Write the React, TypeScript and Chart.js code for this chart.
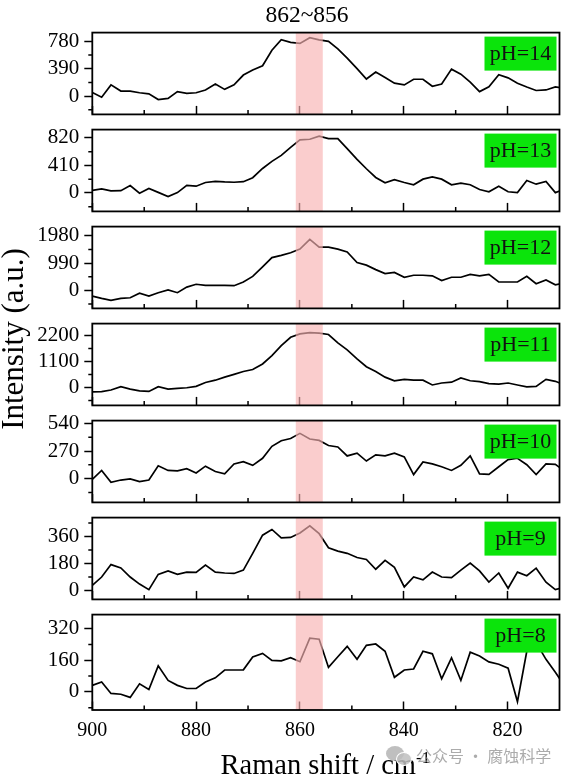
import React, { useEffect, useRef } from 'react';
import { Chart, registerables } from 'chart.js';

Chart.register(...registerables);

// ---------- data ----------
const ramanShift = [
  900.0, 898.2, 896.4, 894.5, 892.7, 890.9, 889.1, 887.3, 885.4, 883.6,
  881.8, 880.0, 878.2, 876.3, 874.5, 872.7, 870.9, 869.1, 867.2, 865.4,
  863.6, 861.8, 860.0, 858.1, 856.3, 854.5, 852.7, 850.9, 849.0, 847.2,
  845.4, 843.6, 841.8, 839.9, 838.1, 836.3, 834.5, 832.7, 830.8, 829.0,
  827.2, 825.4, 823.6, 821.7, 819.9, 818.1, 816.3, 814.5, 812.6, 810.8,
  809.0,
];

const intensityPH14 = [
  52, -16, 160, 72, 72, 48, 32, -48, -32, 64,
  40, 48, 88, 172, 96, 160, 300, 372, 432, 652,
  804, 764, 750, 832, 800, 780, 672, 540, 392, 244,
  344, 264, 184, 160, 240, 240, 140, 172, 384, 312,
  200, 64, 132, 304, 260, 184, 130, 80, 88, 130,
  110,
];

const intensityPH13 = [
  38, 59, 29, 33, 109, -4, 67, 8, -54, 4,
  113, 100, 155, 171, 163, 159, 167, 226, 364, 470,
  560, 680, 790, 800, 845, 810, 810, 660, 500, 360,
  230, 150, 196, 155, 121, 205, 238, 205, 121, 146,
  121, 50, 17, 100, 17, 4, 184, 130, 171, 4,
  59,
];

const intensityPH12 = [
  -204, -286, -357, -286, -265, -102, -204, -82, 20, -82,
  122, 224, 184, 184, 184, 173, 306, 510, 857, 1193,
  1275, 1367, 1500, 1856, 1571, 1571, 1500, 1397, 1010, 918,
  755, 612, 653, 479, 551, 551, 530, 357, 479, 479,
  581, 530, 581, 306, 306, 306, 510, 245, 377, 204,
  275,
];

const intensityPH11 = [
  -189, -177, -106, 35, -71, -142, -166, 35, -71, -35,
  -12, 47, 213, 308, 438, 556, 674, 757, 994, 1349,
  1763, 2118, 2260, 2319, 2295, 2236, 1881, 1585, 1207, 875,
  674, 438, 284, 343, 308, 308, 106, 189, 225, 402,
  284, 248, 166, 142, 189, 106, 24, 47, 343, 260,
  106,
];

const intensityPH10 = [
  -8, 80, -36, -14, -3, -30, -14, 125, 80, 75,
  97, 55, 122, 69, 47, 144, 166, 130, 199, 316,
  371, 393, 443, 388, 374, 324, 310, 222, 249, 172,
  233, 222, 249, 213, 39, 163, 144, 116, 80, 130,
  222, 47, 42, 116, 186, 199, 136, 39, 144, 139,
  75,
];

const intensityPH9 = [
  34, 90, 173, 151, 90, 43, 6, 108, 131, 108,
  123, 121, 170, 123, 117, 114, 136, 248, 369, 407,
  351, 354, 384, 431, 379, 285, 263, 248, 220, 207,
  142, 201, 155, 24, 90, 71, 123, 90, 86, 136,
  183, 131, 56, 117, 15, 123, 99, 149, 56, 6,
  24,
];

const intensityPH8 = [
  33, 50, -8, -12, -28, 41, 12, 132, 58, 33,
  17, 17, 50, 71, 111, 111, 112, 177, 195, 160,
  157, 173, 153, 272, 267, 124, 178, 231, 165, 236,
  243, 206, 74, 111, 116, 206, 193, 66, 173, 58,
  201, 182, 152, 140, 120, -50, 206, 250, 165, 99,
  30,
];

const panelLabels = ['pH=14', 'pH=13', 'pH=12', 'pH=11', 'pH=10', 'pH=9', 'pH=8'];
const panelSeries = [
  intensityPH14, intensityPH13, intensityPH12, intensityPH11,
  intensityPH10, intensityPH9, intensityPH8,
];
const yTickStep = [390, 410, 990, 1100, 270, 180, 160];
const yAxisMin = [-260, -276, -652, -756, -233, -59, -92];
const yAxisMax = [904, 944, 2317, 2697, 568, 486, 392];

const xAxisMin = 810;
const xAxisMax = 900;
const xTickValues = [900, 880, 860, 840, 820];
const xMinorTickValues = [890, 870, 850, 830];
const bandRange = [860.8, 855.6];

const bandTitle = '862~856';
const xTitle = 'Raman shift / cm';
const xTitleSup = '-1';
const yTitle = 'Intensity (a.u.)';
const watermark = '公众号 · 腐蚀科学';

// ---------- layout ----------
const SERIF = "'Liberation Serif', 'Times New Roman', serif";
const W = 563;
const PLOT_LEFT = 92.3;
const PLOT_RIGHT = 559.5;
const FIRST_TOP = 30.7;
const PANEL_H = 97.04;
const PAD_T = 16;
const PAD_B = 4;
const BOTTOM_AXIS_H = 67;

function Panel({ index }: { index: number }) {
  const ref = useRef<HTMLCanvasElement>(null);
  const isBottom = index === panelSeries.length - 1;
  const top = FIRST_TOP + index * PANEL_H - PAD_T;
  const xH = isBottom ? BOTTOM_AXIS_H : PAD_B;
  const height = PAD_T + PANEL_H + xH;

  useEffect(() => {
    if (!ref.current) return;
    const step = yTickStep[index];
    const majors = [0, step, 2 * step];
    const minors = [-step / 2, step / 2, (3 * step) / 2, (5 * step) / 2].filter(
      (v) => v > yAxisMin[index] && v < yAxisMax[index]
    );

    const decor = {
      id: 'panelDecor',
      afterDatasetsDraw(chart: any) {
        const { ctx, chartArea: a, scales } = chart;
        const x1 = scales.x.getPixelForValue(bandRange[0]);
        const x2 = scales.x.getPixelForValue(bandRange[1]);
        ctx.save();
        ctx.fillStyle = 'rgba(247,178,178,0.65)';
        ctx.fillRect(Math.min(x1, x2), a.top, Math.abs(x2 - x1), a.bottom - a.top);
        ctx.restore();
      },
      afterDraw(chart: any) {
        const { ctx, chartArea: a, scales } = chart;
        ctx.save();
        ctx.strokeStyle = '#000';
        ctx.lineWidth = 1.5;
        ctx.beginPath();
        xMinorTickValues.forEach((v) => {
          const px = scales.x.getPixelForValue(v);
          ctx.moveTo(px, a.bottom);
          ctx.lineTo(px, a.bottom - 4.5);
        });
        minors.forEach((v) => {
          const py = scales.y.getPixelForValue(v);
          ctx.moveTo(a.left, py);
          ctx.lineTo(a.left - 4, py);
        });
        ctx.stroke();
        ctx.lineWidth = 1.8;
        ctx.strokeRect(a.left, a.top, a.right - a.left, a.bottom - a.top);
        const bw = 72;
        const bh = 34;
        const bx = a.right - 3 - bw;
        const by = a.top + 4;
        ctx.fillStyle = '#0be40b';
        ctx.fillRect(bx, by, bw, bh);
        ctx.fillStyle = '#111';
        ctx.font = `22px ${SERIF}`;
        ctx.textAlign = 'center';
        ctx.textBaseline = 'middle';
        ctx.fillText(panelLabels[index], bx + bw / 2, by + bh / 2 + 1);
        ctx.restore();
      },
    };

    const chart = new Chart(ref.current, {
      type: 'line',
      data: {
        datasets: [
          {
            data: ramanShift.map((x, k) => ({ x, y: panelSeries[index][k] })),
            borderColor: '#000',
            borderWidth: 1.7,
            pointRadius: 0,
            tension: 0,
            fill: false,
          },
        ],
      },
      options: {
        animation: false,
        responsive: true,
        maintainAspectRatio: false,
        layout: { padding: { top: PAD_T, right: W - PLOT_RIGHT, left: 0, bottom: 0 } },
        plugins: {
          legend: { display: false },
          tooltip: { enabled: false },
          title: { display: false },
        },
        scales: {
          x: {
            type: 'linear',
            min: xAxisMin,
            max: xAxisMax,
            reverse: true,
            z: 1,
            afterBuildTicks: (s: any) => {
              s.ticks = xTickValues.map((v) => ({ value: v }));
            },
            afterFit: (s: any) => {
              s.height = xH;
            },
            grid: {
              drawOnChartArea: false,
              drawTicks: true,
              tickLength: -8.5,
              tickWidth: 1.5,
              tickColor: '#000',
            },
            border: { display: false },
            ticks: {
              display: isBottom,
              color: '#000',
              font: { family: SERIF, size: 20 },
              padding: 17,
              maxRotation: 0,
              autoSkip: false,
              callback: (v: any) => String(v),
            },
          },
          y: {
            type: 'linear',
            min: yAxisMin[index],
            max: yAxisMax[index],
            afterBuildTicks: (s: any) => {
              s.ticks = majors.map((v) => ({ value: v }));
            },
            afterFit: (s: any) => {
              s.width = PLOT_LEFT;
            },
            grid: {
              drawOnChartArea: false,
              drawTicks: true,
              tickLength: 8,
              tickWidth: 1.5,
              tickColor: '#000',
            },
            border: { display: false },
            ticks: {
              color: '#000',
              font: { family: SERIF, size: 21 },
              padding: 5,
              autoSkip: false,
              callback: (v: any) => String(v),
            },
          },
        },
      } as any,
      plugins: [decor],
    });
    return () => chart.destroy();
  }, []);

  return (
    <div style={{ position: 'absolute', left: 0, top, width: W, height }}>
      <canvas ref={ref} style={{ display: 'block' }} />
    </div>
  );
}

export default function App() {
  return (
    <div
      style={{
        position: 'absolute',
        left: 0,
        top: 0,
        width: W,
        height: 777,
        background: '#fff',
        overflow: 'hidden',
        fontFamily: SERIF,
        color: '#000',
      }}
    >
      {panelSeries.map((_, i) => (
        <Panel key={i} index={i} />
      ))}
      <div
        style={{
          position: 'absolute',
          left: 207,
          top: 0,
          width: 200,
          height: 28,
          lineHeight: '28px',
          fontSize: 23.5,
          textAlign: 'center',
        }}
      >
        {bandTitle}
      </div>
      <div
        style={{
          position: 'absolute',
          left: 13 - 120,
          top: 338.5 - 18,
          width: 240,
          height: 36,
          lineHeight: '36px',
          fontSize: 31,
          textAlign: 'center',
          whiteSpace: 'nowrap',
          transform: 'rotate(-90deg)',
          transformOrigin: '50% 50%',
        }}
      >
        {yTitle}
      </div>
      <div
        style={{
          position: 'absolute',
          left: 220.5,
          top: 749,
          height: 32,
          lineHeight: '32px',
          fontSize: 28.5,
          whiteSpace: 'nowrap',
        }}
      >
        {xTitle}
        <span style={{ fontSize: 17, position: 'relative', top: -11 }}>{xTitleSup}</span>
      </div>
      <div style={{ position: 'absolute', left: 386, top: 746, width: 18, height: 15, borderRadius: '50%', background: 'rgba(170,170,170,0.75)' }} />
      <div style={{ position: 'absolute', left: 396, top: 752, width: 14, height: 12, borderRadius: '50%', background: 'rgba(190,190,190,0.85)', border: '1px solid #fff' }} />
      <div
        style={{
          position: 'absolute',
          left: 416,
          top: 745,
          height: 20,
          lineHeight: '20px',
          fontSize: 16,
          fontFamily: "'Noto Sans CJK SC', sans-serif",
          color: 'rgba(150,150,150,0.8)',
          whiteSpace: 'nowrap',
        }}
      >
        {watermark}
      </div>
    </div>
  );
}
